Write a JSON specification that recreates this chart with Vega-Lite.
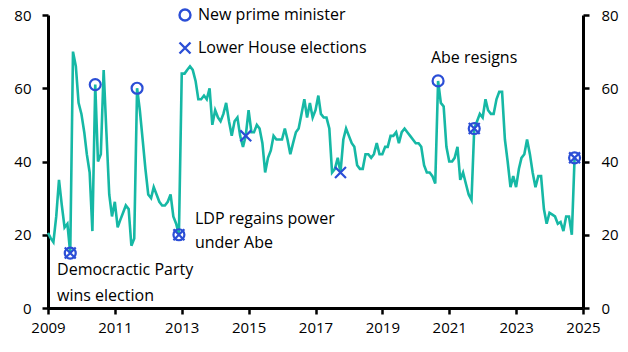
{
  "$schema": "https://vega.github.io/schema/vega-lite/v6.json",
  "width": 535,
  "height": 293,
  "autosize": "none",
  "padding": {"left": 48, "top": 15, "right": 45, "bottom": 44},
  "background": "white",
  "config": {
    "view": {"stroke": null},
    "font": "Open Sans",
    "axis": {"grid": false, "domainColor": "black", "domainWidth": 3, "tickColor": "black", "tickWidth": 2.5, "tickSize": 6, "labelFont": "Open Sans", "labelFontSize": 15, "labelColor": "black", "title": null}
  },
  "datasets": {
    "approval": [
      {"date": "2009-01-01", "v": 20.5}, {"date": "2009-02-01", "v": 19}, {"date": "2009-03-01", "v": 18}, {"date": "2009-04-01", "v": 25}, {"date": "2009-05-01", "v": 35}, {"date": "2009-06-01", "v": 28}, {"date": "2009-07-01", "v": 22}, {"date": "2009-08-01", "v": 23}, {"date": "2009-09-01", "v": 15}, {"date": "2009-10-01", "v": 70}, {"date": "2009-11-01", "v": 66}, {"date": "2009-12-01", "v": 56},
      {"date": "2010-01-01", "v": 53}, {"date": "2010-02-01", "v": 48}, {"date": "2010-03-01", "v": 42}, {"date": "2010-04-01", "v": 37}, {"date": "2010-05-01", "v": 21}, {"date": "2010-06-01", "v": 61}, {"date": "2010-07-01", "v": 40}, {"date": "2010-08-01", "v": 42}, {"date": "2010-09-01", "v": 65}, {"date": "2010-10-01", "v": 48}, {"date": "2010-11-01", "v": 31}, {"date": "2010-12-01", "v": 25},
      {"date": "2011-01-01", "v": 29}, {"date": "2011-02-01", "v": 22}, {"date": "2011-03-01", "v": 24}, {"date": "2011-04-01", "v": 26}, {"date": "2011-05-01", "v": 28}, {"date": "2011-06-01", "v": 27}, {"date": "2011-07-01", "v": 17}, {"date": "2011-08-01", "v": 19}, {"date": "2011-09-01", "v": 60}, {"date": "2011-10-01", "v": 54}, {"date": "2011-11-01", "v": 46}, {"date": "2011-12-01", "v": 38},
      {"date": "2012-01-01", "v": 31}, {"date": "2012-02-01", "v": 30}, {"date": "2012-03-01", "v": 33}, {"date": "2012-04-01", "v": 31}, {"date": "2012-05-01", "v": 29}, {"date": "2012-06-01", "v": 28}, {"date": "2012-07-01", "v": 28}, {"date": "2012-08-01", "v": 29}, {"date": "2012-09-01", "v": 31}, {"date": "2012-10-01", "v": 25}, {"date": "2012-11-01", "v": 23}, {"date": "2012-12-01", "v": 20},
      {"date": "2013-01-01", "v": 64}, {"date": "2013-02-01", "v": 64}, {"date": "2013-03-01", "v": 65}, {"date": "2013-04-01", "v": 66}, {"date": "2013-05-01", "v": 65}, {"date": "2013-06-01", "v": 62}, {"date": "2013-07-01", "v": 57}, {"date": "2013-08-01", "v": 57}, {"date": "2013-09-01", "v": 58}, {"date": "2013-10-01", "v": 57}, {"date": "2013-11-01", "v": 60}, {"date": "2013-12-01", "v": 50},
      {"date": "2014-01-01", "v": 54}, {"date": "2014-02-01", "v": 52}, {"date": "2014-03-01", "v": 51}, {"date": "2014-04-01", "v": 53}, {"date": "2014-05-01", "v": 56}, {"date": "2014-06-01", "v": 51}, {"date": "2014-07-01", "v": 47}, {"date": "2014-08-01", "v": 51}, {"date": "2014-09-01", "v": 52}, {"date": "2014-10-01", "v": 47}, {"date": "2014-11-01", "v": 44}, {"date": "2014-12-01", "v": 47},
      {"date": "2015-01-01", "v": 54}, {"date": "2015-02-01", "v": 48}, {"date": "2015-03-01", "v": 48}, {"date": "2015-04-01", "v": 50}, {"date": "2015-05-01", "v": 49}, {"date": "2015-06-01", "v": 45}, {"date": "2015-07-01", "v": 37}, {"date": "2015-08-01", "v": 41}, {"date": "2015-09-01", "v": 43}, {"date": "2015-10-01", "v": 47}, {"date": "2015-11-01", "v": 46}, {"date": "2015-12-01", "v": 46},
      {"date": "2016-01-01", "v": 46}, {"date": "2016-02-01", "v": 49}, {"date": "2016-03-01", "v": 46}, {"date": "2016-04-01", "v": 42}, {"date": "2016-05-01", "v": 45}, {"date": "2016-06-01", "v": 48}, {"date": "2016-07-01", "v": 49}, {"date": "2016-08-01", "v": 53}, {"date": "2016-09-01", "v": 57}, {"date": "2016-10-01", "v": 52}, {"date": "2016-11-01", "v": 56}, {"date": "2016-12-01", "v": 52},
      {"date": "2017-01-01", "v": 54}, {"date": "2017-02-01", "v": 58}, {"date": "2017-03-01", "v": 53}, {"date": "2017-04-01", "v": 52}, {"date": "2017-05-01", "v": 52}, {"date": "2017-06-01", "v": 49}, {"date": "2017-07-01", "v": 37}, {"date": "2017-08-01", "v": 38}, {"date": "2017-09-01", "v": 41}, {"date": "2017-10-01", "v": 37}, {"date": "2017-11-01", "v": 46}, {"date": "2017-12-01", "v": 49},
      {"date": "2018-01-01", "v": 47}, {"date": "2018-02-01", "v": 45}, {"date": "2018-03-01", "v": 44}, {"date": "2018-04-01", "v": 39}, {"date": "2018-05-01", "v": 38}, {"date": "2018-06-01", "v": 38}, {"date": "2018-07-01", "v": 42}, {"date": "2018-08-01", "v": 42}, {"date": "2018-09-01", "v": 41}, {"date": "2018-10-01", "v": 42}, {"date": "2018-11-01", "v": 45}, {"date": "2018-12-01", "v": 42},
      {"date": "2019-01-01", "v": 42}, {"date": "2019-02-01", "v": 44}, {"date": "2019-03-01", "v": 44}, {"date": "2019-04-01", "v": 47}, {"date": "2019-05-01", "v": 47}, {"date": "2019-06-01", "v": 48}, {"date": "2019-07-01", "v": 45}, {"date": "2019-08-01", "v": 48}, {"date": "2019-09-01", "v": 49}, {"date": "2019-10-01", "v": 48}, {"date": "2019-11-01", "v": 47}, {"date": "2019-12-01", "v": 46},
      {"date": "2020-01-01", "v": 45}, {"date": "2020-02-01", "v": 45}, {"date": "2020-03-01", "v": 44}, {"date": "2020-04-01", "v": 39}, {"date": "2020-05-01", "v": 37}, {"date": "2020-06-01", "v": 37}, {"date": "2020-07-01", "v": 36}, {"date": "2020-08-01", "v": 34}, {"date": "2020-09-01", "v": 62}, {"date": "2020-10-01", "v": 56}, {"date": "2020-11-01", "v": 55}, {"date": "2020-12-01", "v": 44},
      {"date": "2021-01-01", "v": 40}, {"date": "2021-02-01", "v": 40}, {"date": "2021-03-01", "v": 41}, {"date": "2021-04-01", "v": 44}, {"date": "2021-05-01", "v": 35}, {"date": "2021-06-01", "v": 37}, {"date": "2021-07-01", "v": 34}, {"date": "2021-08-01", "v": 31}, {"date": "2021-09-01", "v": 29.5}, {"date": "2021-10-01", "v": 49}, {"date": "2021-11-01", "v": 51}, {"date": "2021-12-01", "v": 53},
      {"date": "2022-01-01", "v": 52}, {"date": "2022-02-01", "v": 57}, {"date": "2022-03-01", "v": 54}, {"date": "2022-04-01", "v": 53}, {"date": "2022-05-01", "v": 53}, {"date": "2022-06-01", "v": 57}, {"date": "2022-07-01", "v": 59}, {"date": "2022-08-01", "v": 59}, {"date": "2022-09-01", "v": 46}, {"date": "2022-10-01", "v": 40}, {"date": "2022-11-01", "v": 33}, {"date": "2022-12-01", "v": 36},
      {"date": "2023-01-01", "v": 33}, {"date": "2023-02-01", "v": 38}, {"date": "2023-03-01", "v": 41}, {"date": "2023-04-01", "v": 42}, {"date": "2023-05-01", "v": 46}, {"date": "2023-06-01", "v": 42}, {"date": "2023-07-01", "v": 37}, {"date": "2023-08-01", "v": 33}, {"date": "2023-09-01", "v": 36}, {"date": "2023-10-01", "v": 36}, {"date": "2023-11-01", "v": 27}, {"date": "2023-12-01", "v": 23},
      {"date": "2024-01-01", "v": 26}, {"date": "2024-02-01", "v": 25.5}, {"date": "2024-03-01", "v": 25}, {"date": "2024-04-01", "v": 23}, {"date": "2024-05-01", "v": 23.5}, {"date": "2024-06-01", "v": 21}, {"date": "2024-07-01", "v": 25}, {"date": "2024-08-01", "v": 25}, {"date": "2024-09-01", "v": 20}, {"date": "2024-10-01", "v": 41}
    ],
    "markers": [
      {"date": "2009-09-01", "v": 15, "type": "New prime minister"},
      {"date": "2010-06-01", "v": 61, "type": "New prime minister"},
      {"date": "2011-09-01", "v": 60, "type": "New prime minister"},
      {"date": "2012-12-01", "v": 20, "type": "New prime minister"},
      {"date": "2020-09-01", "v": 62, "type": "New prime minister"},
      {"date": "2021-10-01", "v": 49, "type": "New prime minister"},
      {"date": "2024-10-01", "v": 41, "type": "New prime minister"},
      {"date": "2009-09-01", "v": 15, "type": "Lower House elections"},
      {"date": "2012-12-01", "v": 20, "type": "Lower House elections"},
      {"date": "2014-12-01", "v": 47, "type": "Lower House elections"},
      {"date": "2017-10-01", "v": 37, "type": "Lower House elections"},
      {"date": "2021-10-01", "v": 49, "type": "Lower House elections"},
      {"date": "2024-10-01", "v": 41, "type": "Lower House elections"}
    ],
    "notes": [
      {"date": "2009-04-10", "v": 10.4, "label": "Democractic Party"},
      {"date": "2009-04-10", "v": 3.3, "label": "wins election"},
      {"date": "2013-05-25", "v": 24.3, "label": "LDP regains power"},
      {"date": "2013-05-25", "v": 17.7, "label": "under Abe"},
      {"date": "2020-06-15", "v": 68.3, "label": "Abe resigns"}
    ]
  },
  "resolve": {"axis": {"y": "independent"}},
  "layer": [
    {
      "data": {"name": "approval"},
      "mark": {"type": "line", "color": "#16B8A5", "strokeWidth": 2.6},
      "encoding": {
        "x": {"field": "date", "type": "temporal", "scale": {"domain": ["2009-01-01", "2025-01-01"]},
              "axis": {"values": ["2009-01-01", "2011-01-01", "2013-01-01", "2015-01-01", "2017-01-01", "2019-01-01", "2021-01-01", "2023-01-01", "2025-01-01"], "format": "%Y", "labelPadding": 6, "labelFlush": false, "labelOverlap": false}},
        "y": {"field": "v", "type": "quantitative", "scale": {"domain": [0, 80]},
              "axis": {"orient": "left", "values": [0, 20, 40, 60, 80], "labelPadding": 11}}
      }
    },
    {
      "data": {"name": "approval"},
      "mark": {"type": "line", "opacity": 0},
      "encoding": {
        "x": {"field": "date", "type": "temporal"},
        "y": {"field": "v", "type": "quantitative", "axis": {"orient": "right", "values": [0, 20, 40, 60, 80], "labelPadding": 12}}
      }
    },
    {
      "data": {"name": "markers"},
      "mark": {"type": "point", "filled": false, "stroke": "#2B4ED6", "strokeWidth": 2.2, "size": 120, "opacity": 1},
      "encoding": {
        "x": {"field": "date", "type": "temporal"},
        "y": {"field": "v", "type": "quantitative", "axis": null},
        "shape": {"field": "type", "type": "nominal",
                  "scale": {"domain": ["New prime minister", "Lower House elections"], "range": ["circle", "M-1,-1L1,1M-1,1L1,-1"]},
                  "legend": {"title": null, "orient": "none", "legendX": 129, "legendY": -8, "padding": 0, "labelFont": "Open Sans", "labelFontSize": 16, "labelColor": "black", "labelOffset": 5, "labelLimit": 400, "rowPadding": 11, "symbolSize": 120, "symbolStrokeColor": "#2B4ED6", "symbolStrokeWidth": 2.4, "symbolFillColor": "transparent"}}
      }
    },
    {
      "data": {"name": "notes"},
      "mark": {"type": "text", "align": "left", "baseline": "middle", "fontSize": 16, "font": "Open Sans", "color": "black"},
      "encoding": {
        "x": {"field": "date", "type": "temporal"},
        "y": {"field": "v", "type": "quantitative", "axis": null},
        "text": {"field": "label"}
      }
    }
  ]
}
